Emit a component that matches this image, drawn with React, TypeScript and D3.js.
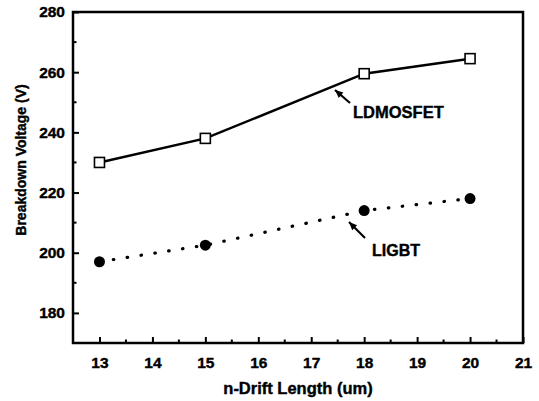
import React, { useEffect, useRef } from "react";
import * as d3 from "d3";

const driftLength = [13, 15, 18, 20];
const ldmosfet = [230, 238, 259.5, 264.5];
const ligbt = [197, 202.5, 214, 218];
const xTicks = [13, 14, 15, 16, 17, 18, 19, 20, 21];
const yTicks = [180, 200, 220, 240, 260, 280];

const App: React.FC = () => {
  const ref = useRef<SVGSVGElement>(null);

  useEffect(() => {
    const svg = d3.select(ref.current);
    svg.selectAll("*").remove();
    const margin = { top: 12, right: 16, bottom: 58, left: 73 };
    const width = 539 - margin.left - margin.right;
    const height = 401 - margin.top - margin.bottom;
    const font = "'Liberation Sans', Arial, Helvetica, sans-serif";

    const x = d3.scaleLinear().domain([12.5, 21]).range([0, width]);
    const y = d3.scaleLinear().domain([170, 280]).range([height, 0]);

    const g = svg.append("g")
      .attr("transform", `translate(${margin.left},${margin.top})`);

    // minor ticks
    const xMinor = d3.range(13, 21, 0.5).filter(v => !Number.isInteger(v));
    g.selectAll(".xminor").data(xMinor).enter().append("line")
      .attr("x1", d => x(d)).attr("x2", d => x(d))
      .attr("y1", height).attr("y2", height - 3.5)
      .attr("stroke", "#000").attr("stroke-width", 2);
    const yMinor = d3.range(170, 280, 10).filter(v => v % 20 !== 0);
    g.selectAll(".yminor").data(yMinor).enter().append("line")
      .attr("x1", 0).attr("x2", 3.5)
      .attr("y1", d => y(d)).attr("y2", d => y(d))
      .attr("stroke", "#000").attr("stroke-width", 2);

    const xAxis = g.append("g")
      .attr("transform", `translate(0,${height})`)
      .call(d3.axisBottom(x).tickValues(xTicks).tickSizeInner(-6).tickSizeOuter(0).tickPadding(9));
    const yAxis = g.append("g")
      .call(d3.axisLeft(y).tickValues(yTicks).tickSizeInner(-6).tickSizeOuter(0).tickPadding(8));
    [xAxis, yAxis].forEach(a => {
      a.select(".domain").remove();
      a.selectAll(".tick line").attr("stroke", "#000").attr("stroke-width", 2);
      a.selectAll(".tick text")
        .attr("fill", "#000")
        .attr("stroke", "#000").attr("stroke-width", 0.4)
        .style("font-family", font)
        .style("font-weight", "bold")
        .style("font-size", "15.5px");
    });
    xAxis.selectAll(".tick text").attr("dy", "1.05em");

    // frame
    g.append("rect")
      .attr("x", 0).attr("y", 0).attr("width", width).attr("height", height)
      .attr("fill", "none").attr("stroke", "#000").attr("stroke-width", 2.5);

    const line = d3.line<number>()
      .x((_, i) => x(driftLength[i]))
      .y(d => y(d));

    g.append("path").datum(ldmosfet)
      .attr("d", line).attr("fill", "none")
      .attr("stroke", "#000").attr("stroke-width", 2.5);

    g.append("path").datum(ligbt)
      .attr("d", line).attr("fill", "none")
      .attr("stroke", "#000").attr("stroke-width", 3.2)
      .attr("stroke-linecap", "round")
      .attr("stroke-dasharray", "0.5 13.5");

    g.selectAll(".sq").data(ldmosfet).enter().append("rect")
      .attr("x", (_, i) => x(driftLength[i]) - 5)
      .attr("y", d => y(d) - 5)
      .attr("width", 10).attr("height", 10)
      .attr("fill", "#fff").attr("stroke", "#000").attr("stroke-width", 1.6);

    g.selectAll(".dot").data(ligbt).enter().append("circle")
      .attr("cx", (_, i) => x(driftLength[i]))
      .attr("cy", d => y(d))
      .attr("r", 5.5).attr("fill", "#000");

    // annotations
    const arrow = (x1: number, y1: number, x2: number, y2: number) => {
      g.append("line")
        .attr("x1", x1).attr("y1", y1).attr("x2", x2).attr("y2", y2)
        .attr("stroke", "#000").attr("stroke-width", 2.2);
      const ang = Math.atan2(y2 - y1, x2 - x1);
      const len = 8, w = 3.5;
      const bx = x2 - len * Math.cos(ang), by = y2 - len * Math.sin(ang);
      const px = -Math.sin(ang) * w, py = Math.cos(ang) * w;
      g.append("path")
        .attr("d", `M${x2},${y2}L${bx + px},${by + py}L${bx - px},${by - py}Z`)
        .attr("fill", "#000");
    };
    arrow(350 - margin.left, 103 - margin.top, 335 - margin.left, 90 - margin.top);
    arrow(365 - margin.left, 238 - margin.top, 349 - margin.left, 222 - margin.top);

    const text = (t: string, size: number) =>
      svg.append("text")
        .attr("fill", "#000")
        .attr("stroke", "#000").attr("stroke-width", 0.4)
        .style("font-family", font).style("font-weight", "bold").style("font-size", `${size}px`)
        .text(t);

    text("LDMOSFET", 16.5).attr("x", 353).attr("y", 118);
    text("LIGBT", 16).attr("x", 372).attr("y", 256);

    text("n-Drift Length (um)", 16.5)
      .attr("x", 298).attr("y", 394)
      .attr("text-anchor", "middle");

    text("Breakdown Voltage (V)", 14)
      .attr("transform", `translate(26,160) rotate(-90)`)
      .attr("text-anchor", "middle");
  }, []);

  return (
    <svg ref={ref} width={539} height={401}
      style={{ position: "absolute", left: 0, top: 0, background: "#fff" }} />
  );
};

export default App;
